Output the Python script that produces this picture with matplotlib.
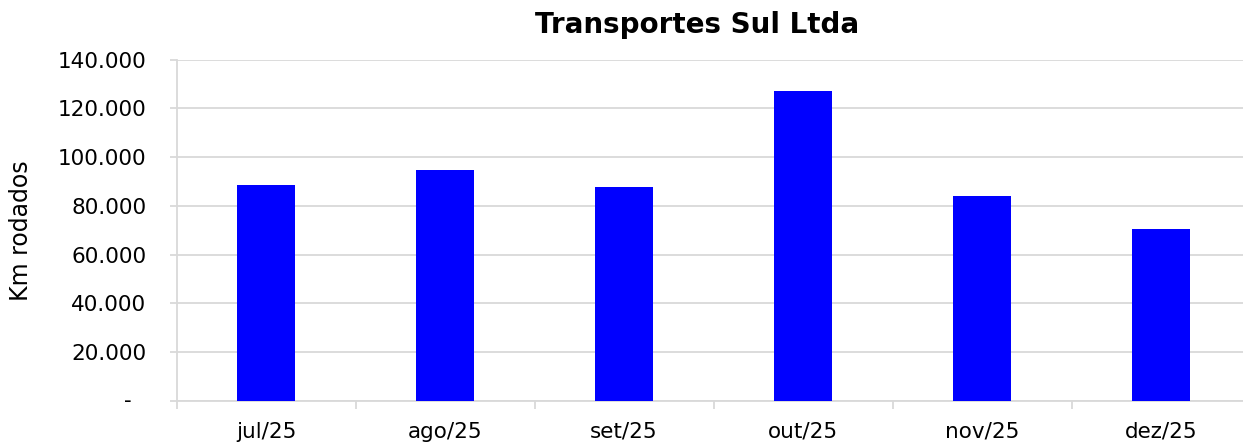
import numpy as np
import matplotlib
matplotlib.use('Agg')
import matplotlib.pyplot as plt
from matplotlib.ticker import FuncFormatter, FixedLocator

months = ['jul/25', 'ago/25', 'set/25', 'out/25', 'nov/25', 'dez/25']
km_rodados = [88400, 94600, 87800, 127000, 84000, 70300]
title = 'Transportes Sul Ltda'
y_label = 'Km rodados'

GRID = '#D9D9D9'

plt.rcParams['font.family'] = ['DejaVu Sans']

fig = plt.figure(figsize=(12.43, 4.46), dpi=100)
# axes runs past the right edge of the figure, like the cropped original
ax = fig.add_axes([176.7 / 1243, 45.3 / 446, 1073.8 / 1243, 341.0 / 446])

x = np.arange(len(months))
ax.bar(x, km_rodados, width=0.324, color='#0000FF', zorder=3)

ax.set_xlim(-0.5, len(months) - 0.5)
ax.set_ylim(0, 140000)
ax.set_yticks(np.arange(0, 140001, 20000))


def thousands(v, pos):
    # zero is drawn separately as an accounting-style dash
    if v == 0:
        return ''
    return '{:,.0f}'.format(v).replace(',', '.')


ax.yaxis.set_major_formatter(FuncFormatter(thousands))
ax.text(-45.0 / 1073.8, 0, '-', transform=ax.get_yaxis_transform(),
        ha='right', va='center', fontsize=15.5)
ax.grid(axis='y', color=GRID, linewidth=1.3, zorder=0)

ax.set_xticks(x)
ax.set_xticklabels(months)
ax.xaxis.set_minor_locator(FixedLocator(np.arange(-0.5, len(months), 1.0)))
ax.tick_params(axis='x', which='major', length=0, pad=15, labelsize=15.5)
ax.tick_params(axis='x', which='minor', length=6, width=1.3, color=GRID)
ax.tick_params(axis='y', length=5, width=1.3, color=GRID, pad=17, labelsize=15.5)

for side in ['top', 'right']:
    ax.spines[side].set_visible(False)
for side in ['left', 'bottom']:
    ax.spines[side].set_color(GRID)
    ax.spines[side].set_linewidth(1.3)

ax.set_ylabel(y_label, fontsize=17)
ax.yaxis.set_label_coords(-0.134, 0.5)

fig.text(697 / 1243, 1 - 25 / 446, title, ha='center', va='center',
         fontsize=20, fontweight='bold')

fig.savefig('out.png', dpi=100)
